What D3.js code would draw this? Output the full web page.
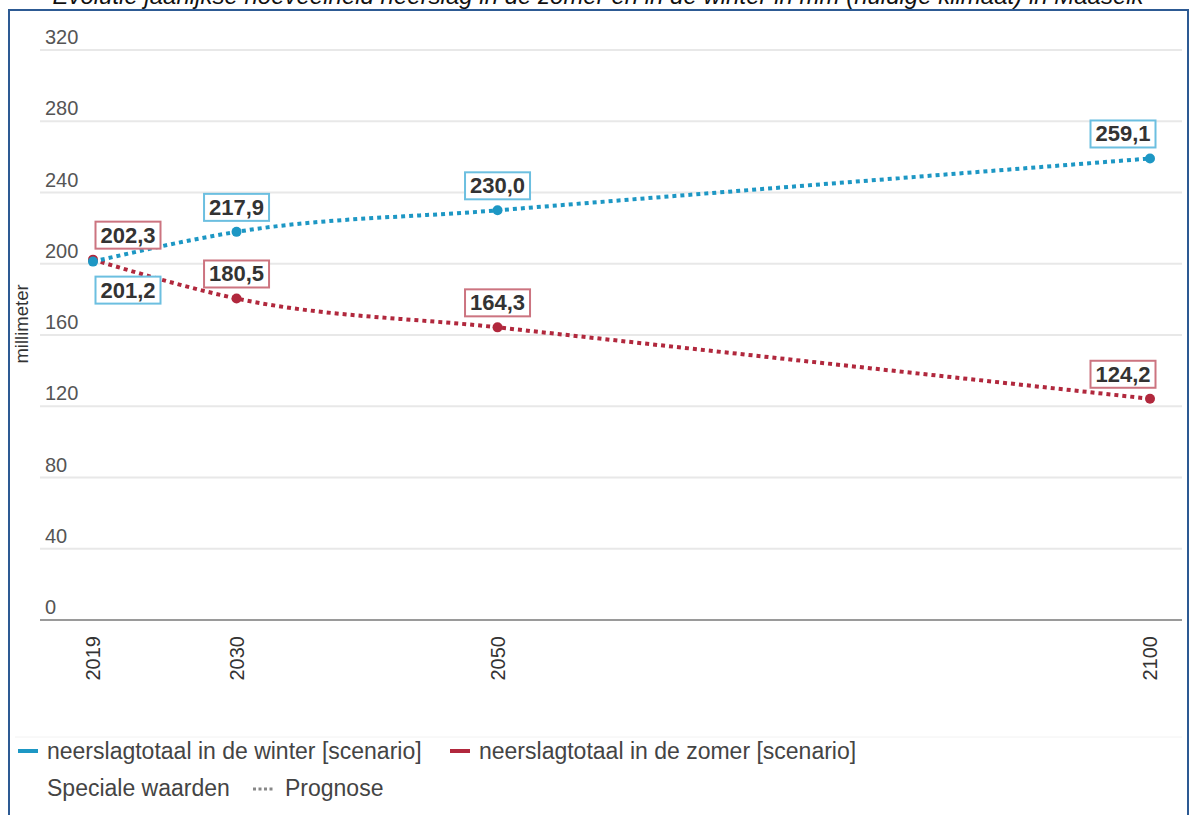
<!DOCTYPE html>
<meta charset="utf-8">
<script src="https://d3js.org/d3.v7.min.js"></script>
<style>
  body { margin: 0; background: #fff; }
  text { font-family: "Liberation Sans", Arial, sans-serif; }
</style>
<div id="chart"></div>
<script>

    // data
    const years = [2019, 2030, 2050, 2100];
    const winter = [201.2, 217.9, 230.0, 259.1];
    const zomer = [202.3, 180.5, 164.3, 124.2];
    const yTicks = [0, 40, 80, 120, 160, 200, 240, 280, 320];
    const seriesNames = ["neerslagtotaal in de winter [scenario]", "neerslagtotaal in de zomer [scenario]"];
    const title = "Evolutie jaarlijkse hoeveelheid neerslag in de zomer en in de winter in mm (huidige klimaat) in Maaseik";

    const W = 1197, H = 815;
    const svg = d3.select("#chart").append("svg")
        .attr("width", W).attr("height", H);

    // frame
    svg.append("rect")
        .attr("x", 9).attr("y", 10).attr("width", 1179).attr("height", 830)
        .attr("fill", "#fff").attr("stroke", "#2d5a93").attr("stroke-width", 2);

    // title (partly cut off at the top, as in the source)
    svg.append("text")
        .attr("x", 598).attr("y", 4)
        .attr("text-anchor", "middle")
        .style("font-size", "24px").style("font-style", "italic").attr("fill", "#111")
        .text(title);

    const x = d3.scaleLinear().domain([2019, 2100]).range([93, 1150]);
    const y = d3.scaleLinear().domain([0, 320]).range([620, 50]);

    // grid + y labels
    const grid = svg.append("g");
    yTicks.forEach(t => {
        if (t > 0) {
            grid.append("line")
                .attr("x1", 40).attr("x2", 1182)
                .attr("y1", y(t)).attr("y2", y(t))
                .attr("stroke", "#e8e8e8").attr("stroke-width", 2);
        }
        grid.append("text")
            .attr("x", 45).attr("y", y(t) - 6)
            .style("font-size", "20px").attr("fill", "#555")
            .text(t);
    });

    // x axis line
    svg.append("line")
        .attr("x1", 40).attr("x2", 1182)
        .attr("y1", y(0)).attr("y2", y(0))
        .attr("stroke", "#9a9a9a").attr("stroke-width", 2);

    // x tick labels rotated
    years.forEach(yr => {
        svg.append("text")
            .attr("transform", `translate(${x(yr) + 7},${636}) rotate(-90)`)
            .attr("text-anchor", "end")
            .style("font-size", "20px").attr("fill", "#333")
            .text(yr);
    });

    // y axis title
    svg.append("text")
        .attr("transform", "translate(28,324) rotate(-90)")
        .attr("text-anchor", "middle")
        .style("font-size", "18.5px").attr("fill", "#333")
        .text("millimeter");

    const series = [
        {vals: winter, color: "#1d97c4", box: "#6cbfe0"},
        {vals: zomer, color: "#b1283d", box: "#cc7480"}
    ];

    const line = d3.line()
        .x((d, i) => x(years[i]))
        .y(d => y(d))
        .curve(d3.curveMonotoneX);

    // zomer first so winter dot sits on top at 2019
    [series[1], series[0]].forEach(s => {
        svg.append("path")
            .datum(s.vals)
            .attr("d", line)
            .attr("fill", "none")
            .attr("stroke", s.color)
            .attr("stroke-width", 4)
            .attr("stroke-dasharray", "4,4");
        svg.selectAll(null)
            .data(s.vals)
            .join("circle")
            .attr("cx", (d, i) => x(years[i]))
            .attr("cy", d => y(d))
            .attr("r", 5)
            .attr("fill", s.color);
    });

    // value labels
    const fmt = v => v.toFixed(1).replace(".", ",");
    function label(v, i, s, above) {
        const px = x(years[i]);
        let cx = px;
        if (i === 0) cx = px + 35;
        if (i === years.length - 1) cx = px - 27;
        const bw = 65, bh = 27;
        const by = above ? y(v) - 11 - bh : y(v) + 15;
        const g = svg.append("g");
        g.append("rect")
            .attr("x", cx - bw / 2).attr("y", by)
            .attr("width", bw).attr("height", bh)
            .attr("fill", "#fff").attr("stroke", s.box).attr("stroke-width", 2);
        g.append("text")
            .attr("x", cx).attr("y", by + 21)
            .attr("text-anchor", "middle")
            .style("font-size", "22px").style("font-weight", "bold").attr("fill", "#333")
            .text(fmt(v));
    }
    winter.forEach((v, i) => label(v, i, series[0], i !== 0));
    zomer.forEach((v, i) => label(v, i, series[1], true));

    // legend
    svg.append("line")
        .attr("x1", 15).attr("x2", 1182).attr("y1", 737).attr("y2", 737)
        .attr("stroke", "#f2f2f2").attr("stroke-width", 1);
    const leg = [{x: 18, name: seriesNames[0], color: series[0].color},
                 {x: 450, name: seriesNames[1], color: series[1].color}];
    leg.forEach(l => {
        svg.append("line")
            .attr("x1", l.x).attr("x2", l.x + 20).attr("y1", 751).attr("y2", 751)
            .attr("stroke", l.color).attr("stroke-width", 4);
        svg.append("text")
            .attr("x", l.x + 29).attr("y", 759)
            .style("font-size", "23px").attr("fill", "#444")
            .text(l.name);
    });
    svg.append("text")
        .attr("x", 47).attr("y", 796)
        .style("font-size", "23px").attr("fill", "#444")
        .text("Speciale waarden");
    svg.append("line")
        .attr("x1", 253).attr("x2", 273).attr("y1", 789).attr("y2", 789)
        .attr("stroke", "#888").attr("stroke-width", 3).attr("stroke-dasharray", "3,2.5");
    svg.append("text")
        .attr("x", 285).attr("y", 796)
        .style("font-size", "23px").attr("fill", "#444")
        .text("Prognose");

</script>
